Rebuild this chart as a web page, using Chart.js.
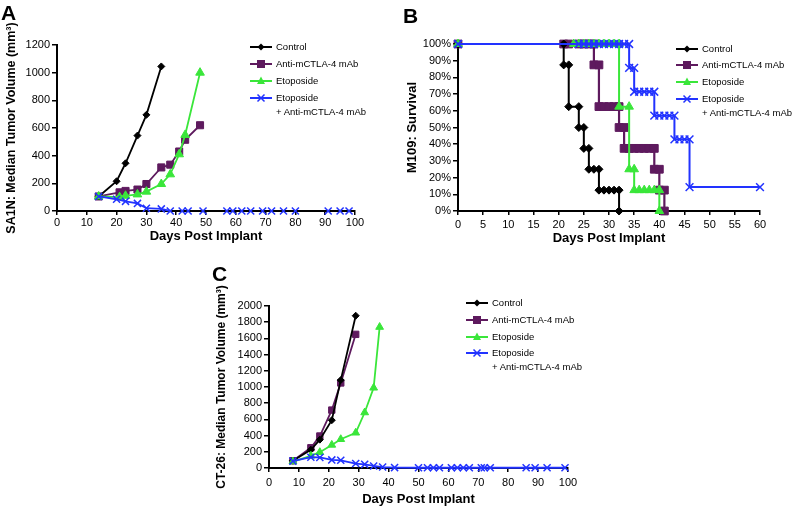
<!DOCTYPE html>
<html>
<head>
<meta charset="utf-8">
<title>Tumor volume and survival</title>
<script src="https://cdn.jsdelivr.net/npm/chart.js@4.4.1/dist/chart.umd.min.js"></script>
<style>
  body { margin: 0; background: #fff; font-family: "Liberation Sans", Arial, sans-serif; }
  #page { position: relative; width: 793px; height: 511px; overflow: hidden; background: #fff; }
  canvas { position: absolute; }
  .letter { position: absolute; font-weight: bold; font-size: 21px; line-height: 1; }
  .row { position: absolute; white-space: nowrap; font-size: 9.5px; line-height: 12px; height: 12px; }
  .row svg { position: absolute; left: 0; top: 0; }
  .row span { position: absolute; top: 0; }
</style>
</head>
<body>
<div id="page">
  <canvas id="chartA" style="left:0;top:0"></canvas>
  <canvas id="chartB" style="left:390px;top:0"></canvas>
  <canvas id="chartC" style="left:200px;top:251px"></canvas>
  <div class="letter" style="left:1px;top:2px">A</div>
  <div class="letter" style="left:403px;top:5px">B</div>
  <div class="letter" style="left:212px;top:263px">C</div>
</div>
<script>
// ---- labels ----
const seriesNames = ["Control", "Anti-mCTLA-4 mAb", "Etoposide", "Etoposide"];
const comboSecondLine = "+ Anti-mCTLA-4 mAb";
const xTitle = "Days Post Implant";
const yTitleA = "SA1N: Median Tumor Volume (mm³)";
const yTitleB = "M109: Survival";
const yTitleC = "CT-26: Median Tumor Volume (mm³)";

// ---- panel A: SA1N median tumor volume ----
const daysCtrlA = [14, 20, 23, 27, 30, 35];
const volCtrlA = [105, 215, 345, 545, 695, 1045];
const daysAntiA = [14, 21, 23, 27, 30, 35, 38, 41, 43, 48];
const volAntiA = [105, 135, 145, 155, 195, 315, 335, 430, 515, 620];
const daysEtoA = [14, 21, 23, 27, 30, 35, 38, 41, 43, 48];
const volEtoA = [105, 100, 110, 120, 140, 195, 265, 410, 550, 1000];
const daysComboA = [14, 20, 23, 27, 30, 35, 38, 42, 44, 49, 57, 59, 62, 65, 69, 72, 76, 80, 91, 95, 98];
const volComboA = [105, 85, 70, 55, 20, 15, 0, 0, 0, 0, 0, 0, 0, 0, 0, 0, 0, 0, 0, 0, 0];

// ---- panel B: M109 survival (%) ----
const daysCtrlB = [0, 21, 21, 22, 22, 24, 24, 25, 25, 26, 26, 27, 28, 28, 29, 30, 31, 32, 32];
const survCtrlB = [100, 100, 87.5, 87.5, 62.5, 62.5, 50, 50, 37.5, 37.5, 25, 25, 25, 12.5, 12.5, 12.5, 12.5, 12.5, 0];
const daysAntiB = [0, 21, 22, 24, 25, 26, 27, 27, 28, 28, 29, 30, 31, 32, 32, 33, 33, 34, 35, 36, 37, 38, 39, 39, 40, 40, 41, 41];
const survAntiB = [100, 100, 100, 100, 100, 100, 100, 87.5, 87.5, 62.5, 62.5, 62.5, 62.5, 62.5, 50, 50, 37.5, 37.5, 37.5, 37.5, 37.5, 37.5, 37.5, 25, 25, 12.5, 12.5, 0];
const daysEtoB = [0, 23, 24, 25, 26, 27, 28, 29, 30, 31, 32, 32, 34, 34, 35, 35, 36, 37, 38, 39, 40, 40];
const survEtoB = [100, 100, 100, 100, 100, 100, 100, 100, 100, 100, 100, 62.5, 62.5, 25, 25, 12.5, 12.5, 12.5, 12.5, 12.5, 12.5, 0];
const daysComboB = [0, 24, 25, 26, 27, 28, 29, 30, 31, 32, 33, 34, 34, 35, 35, 36, 37, 38, 39, 39, 40, 41, 42, 43, 43, 44, 45, 46, 46, 60];
const survComboB = [100, 100, 100, 100, 100, 100, 100, 100, 100, 100, 100, 100, 85.7, 85.7, 71.4, 71.4, 71.4, 71.4, 71.4, 57.1, 57.1, 57.1, 57.1, 57.1, 42.9, 42.9, 42.9, 42.9, 14.3, 14.3];

// ---- panel C: CT-26 median tumor volume ----
const daysCtrlC = [8, 14, 17, 21, 24, 29];
const volCtrlC = [90, 225, 350, 590, 1085, 1880];
const daysAntiC = [8, 14, 17, 21, 24, 29];
const volAntiC = [90, 250, 395, 715, 1050, 1650];
const daysEtoC = [8, 14, 17, 21, 24, 29, 32, 35, 37];
const volEtoC = [80, 150, 195, 285, 355, 435, 685, 990, 1740];
const daysComboC = [8, 14, 17, 21, 24, 29, 32, 35, 38, 42, 50, 53, 55, 57, 61, 63, 65, 67, 71, 72, 74, 86, 89, 93, 99];
const volComboC = [85, 133, 130, 100, 95, 55, 45, 25, 12, 5, 3, 3, 3, 3, 3, 3, 3, 3, 3, 3, 3, 3, 3, 3, 3];

// ---- styling ----
const colors = ["#000000", "#5e1a5e", "#3ae63a", "#2233ff"];
const pointStyles = ["rectRot", "rect", "triangle", "crossRot"];
const drawOrder = [2, 3, 1, 0]; // blue on top, purple underneath
const FONT = "'Liberation Sans', Arial, Helvetica, sans-serif";

Chart.defaults.color = "#000";
Chart.defaults.font.family = FONT;
Chart.defaults.animation = false;

function toXY(xs, ys) {
  return xs.map((x, i) => ({ x: x, y: ys[i] }));
}

function makeDataset(i, xs, ys, radius, width, extra) {
  return Object.assign({
    label: seriesNames[i],
    data: toXY(xs, ys),
    borderColor: colors[i],
    backgroundColor: colors[i],
    pointBackgroundColor: colors[i],
    pointBorderColor: colors[i],
    pointStyle: pointStyles[i],
    pointRadius: radius[i],
    pointBorderWidth: i === 3 ? 1.5 : 1,
    borderWidth: width,
    order: drawOrder[i],
    clip: false,
    tension: 0,
  }, extra || {});
}

function buildChart(id, w, h, cfg) {
  const canvas = document.getElementById(id);
  canvas.width = w;
  canvas.height = h;
  canvas.style.width = w + "px";
  canvas.style.height = h + "px";

  new Chart(canvas.getContext("2d"), {
    type: "line",
    data: { datasets: cfg.datasets },
    options: {
      responsive: false,
      animation: false,
      layout: { padding: cfg.padding },
      plugins: { legend: { display: false }, tooltip: { enabled: false } },
      scales: {
        x: {
          type: "linear",
          min: 0,
          max: cfg.xMax,
          ticks: { stepSize: cfg.xStep, font: { size: 11 }, padding: cfg.xTickPad, maxRotation: 0, autoSkip: false },
          grid: { drawOnChartArea: false, drawTicks: true, tickLength: 4, color: "#000", lineWidth: 1.5 },
          border: { color: "#000", width: 2 },
          title: { display: true, text: xTitle, font: { size: 13, weight: "bold" } },
          afterFit: (s) => { s.height = cfg.xHeight; s.paddingLeft = 0; s.paddingRight = 0; },
        },
        y: {
          min: 0,
          max: cfg.yMax,
          ticks: {
            stepSize: cfg.yStep,
            font: { size: 11 },
            padding: 2,
            callback: cfg.yFormat || ((v) => v),
          },
          grid: { drawOnChartArea: false, drawTicks: true, tickLength: 5, color: "#000", lineWidth: 1.5 },
          border: { color: "#000", width: 2 },
          title: { display: true, text: cfg.yTitle, font: { size: cfg.yTitleSize, weight: "bold" } },
          afterFit: (s) => { s.width = cfg.yWidth; s.paddingTop = 0; s.paddingBottom = 0; },
        },
      },
    },
  });
}

// Panel A
const hideFlat = {
  segment: {
    borderColor: (ctx) => (ctx.p0.parsed.y === 0 && ctx.p1.parsed.y === 0 ? "rgba(0,0,0,0)" : undefined),
  },
};
const radiusA = [3.5, 5, 5, 5];
buildChart("chartA", 380, 250, {
  padding: { left: 0, top: 45, right: 25, bottom: 2 },
  xHeight: 37, xTickPad: 1, yWidth: 57,
  xMax: 100, xStep: 10, yMax: 1200, yStep: 200,
  yTitle: yTitleA, yTitleSize: 12.5,
  datasets: [
    makeDataset(0, daysCtrlA, volCtrlA, radiusA, 1.8),
    makeDataset(1, daysAntiA, volAntiA, radiusA, 1.8),
    makeDataset(2, daysEtoA, volEtoA, radiusA, 1.8),
    makeDataset(3, daysComboA, volComboA, radiusA, 1.8, hideFlat),
  ],
});

// Panel B
const radiusB = [4, 5.5, 5, 5.5];
const stepB = { stepped: true };
buildChart("chartB", 403, 250, {
  padding: { left: 11, top: 44, right: 33, bottom: 0 },
  xHeight: 39, xTickPad: 3, yWidth: 57,
  xMax: 60, xStep: 5, yMax: 100, yStep: 10,
  yTitle: yTitleB, yTitleSize: 13,
  yFormat: (v) => v + "%",
  datasets: [
    makeDataset(0, daysCtrlB, survCtrlB, radiusB, 2, stepB),
    makeDataset(1, daysAntiB, survAntiB, radiusB, 2.2, stepB),
    makeDataset(2, daysEtoB, survEtoB, radiusB, 2, stepB),
    makeDataset(3, daysComboB, survComboB, radiusB, 2, stepB),
  ],
});

// Panel C
const radiusC = [3.5, 4.5, 4.5, 5];
buildChart("chartC", 400, 260, {
  padding: { left: 10, top: 55, right: 32, bottom: 0 },
  xHeight: 43, xTickPad: 4, yWidth: 59,
  xMax: 100, xStep: 10, yMax: 2000, yStep: 200,
  yTitle: yTitleC, yTitleSize: 12,
  datasets: [
    makeDataset(0, daysCtrlC, volCtrlC, radiusC, 1.8),
    makeDataset(1, daysAntiC, volAntiC, radiusC, 1.8),
    makeDataset(2, daysEtoC, volEtoC, radiusC, 1.8),
    makeDataset(3, daysComboC, volComboC, radiusC, 1.8),
  ],
});

// ---- legends (HTML, inside each panel) ----
function markerSvg(i) {
  const c = colors[i];
  let m = "";
  if (i === 0) m = `<polygon points="11,2.5 14.5,6 11,9.5 7.5,6" fill="${c}"/>`;
  if (i === 1) m = `<rect x="7" y="2" width="8" height="8" fill="${c}"/>`;
  if (i === 2) m = `<polygon points="11,1.5 15,9 7,9" fill="${c}"/>`;
  if (i === 3) m = `<path d="M7.5,2.5 L14.5,9.5 M14.5,2.5 L7.5,9.5" stroke="${c}" stroke-width="1.5"/>`;
  return `<svg width="22" height="12"><line x1="0" y1="6" x2="22" y2="6" stroke="${c}" stroke-width="2"/>${m}</svg>`;
}

function addLegend(left, rowsY, textGap) {
  const page = document.getElementById("page");
  seriesNames.forEach((name, i) => {
    const row = document.createElement("div");
    row.className = "row";
    row.style.left = left + "px";
    row.style.top = rowsY[i] - 6 + "px";
    row.innerHTML = markerSvg(i) + `<span style="left:${textGap}px">${name}</span>`;
    page.appendChild(row);
  });
  const extra = document.createElement("div");
  extra.className = "row";
  extra.style.left = left + "px";
  extra.style.top = rowsY[4] - 6 + "px";
  extra.innerHTML = `<span style="left:${textGap}px">${comboSecondLine}</span>`;
  page.appendChild(extra);
}

addLegend(250, [47, 64, 81, 98, 112], 26);
addLegend(676, [49, 65, 82, 99, 113], 26);
addLegend(466, [303, 320, 337, 353, 367], 26);
</script>
</body>
</html>
